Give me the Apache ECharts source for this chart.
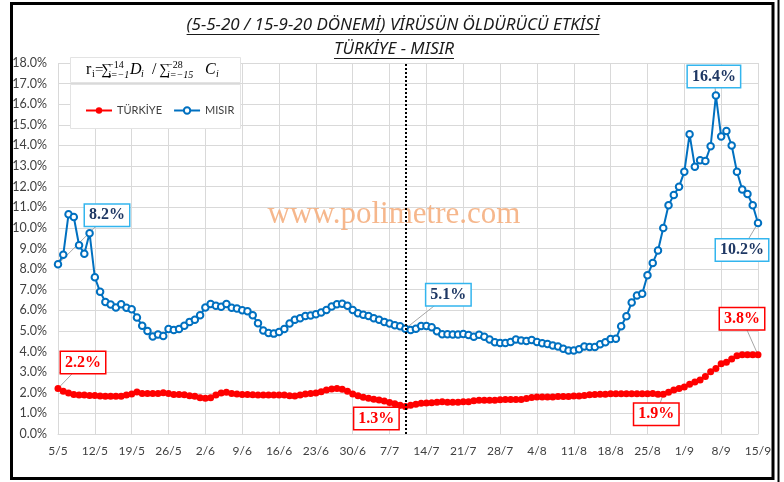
<!DOCTYPE html>
<html style="height: 100%">
<head>
	<meta charset="utf-8">
</head>
<body style="height: 100%; margin: 0; background: #fff">
<div id="container" style="width: 784px; height: 482px"></div>
<script src="https://cdn.jsdelivr.net/npm/echarts@6/dist/echarts.min.js"></script>
<script type="text/javascript">
	// daily dates 5/5 .. 15/9
	var monthSpans = [[5, 5, 31], [6, 1, 30], [7, 1, 31], [8, 1, 31], [9, 1, 15]];
	var dates = [];
	for (var m = 0; m < monthSpans.length; m++) {
		for (var d = monthSpans[m][1]; d <= monthSpans[m][2]; d++) {
			dates.push(d + '/' + monthSpans[m][0]);
		}
	}

	var seriesNames = ['TÜRKİYE', 'MISIR'];

	var turkiye = [
		2.21, 2.07, 1.99, 1.92, 1.89, 1.89, 1.87, 1.87, 1.84, 1.83,
		1.83, 1.83, 1.83, 1.89, 1.94, 2.04, 1.96, 1.96, 1.96, 1.96,
		2.00, 1.96, 1.92, 1.92, 1.91, 1.86, 1.83, 1.76, 1.74, 1.76,
		1.89, 1.99, 2.02, 1.97, 1.94, 1.92, 1.92, 1.91, 1.89, 1.89,
		1.89, 1.89, 1.89, 1.89, 1.86, 1.84, 1.89, 1.94, 1.96, 1.99,
		2.05, 2.13, 2.18, 2.21, 2.17, 2.07, 1.94, 1.86, 1.78, 1.73,
		1.68, 1.65, 1.60, 1.53, 1.47, 1.40, 1.34, 1.39, 1.44, 1.49,
		1.51, 1.52, 1.54, 1.56, 1.54, 1.54, 1.54, 1.56, 1.57, 1.61,
		1.64, 1.64, 1.64, 1.64, 1.66, 1.67, 1.67, 1.67, 1.67, 1.72,
		1.77, 1.79, 1.80, 1.80, 1.80, 1.82, 1.82, 1.82, 1.84, 1.84,
		1.87, 1.90, 1.92, 1.93, 1.93, 1.95, 1.95, 1.95, 1.95, 1.95,
		1.95, 1.95, 1.95, 1.97, 1.93, 1.93, 2.03, 2.13, 2.21, 2.28,
		2.41, 2.52, 2.62, 2.79, 3.02, 3.18, 3.41, 3.48, 3.64, 3.80,
		3.84, 3.84, 3.84, 3.84
	];

	var misir = [
		8.24, 8.70, 10.66, 10.53, 9.16, 8.75, 9.74, 7.60, 6.90, 6.41,
		6.28, 6.14, 6.30, 6.12, 6.05, 5.65, 5.25, 5.00, 4.73, 4.83,
		4.76, 5.09, 5.05, 5.09, 5.25, 5.44, 5.54, 5.76, 6.14, 6.31,
		6.22, 6.17, 6.31, 6.12, 6.09, 6.00, 5.96, 5.76, 5.37, 5.02,
		4.90, 4.87, 4.95, 5.10, 5.36, 5.54, 5.62, 5.73, 5.75, 5.81,
		5.90, 6.02, 6.19, 6.30, 6.32, 6.22, 6.02, 5.86, 5.78, 5.72,
		5.62, 5.54, 5.44, 5.36, 5.28, 5.23, 5.11, 5.05, 5.11, 5.24,
		5.24, 5.18, 4.98, 4.84, 4.84, 4.83, 4.83, 4.85, 4.80, 4.72,
		4.82, 4.72, 4.59, 4.45, 4.42, 4.42, 4.46, 4.59, 4.54, 4.51,
		4.56, 4.46, 4.40, 4.37, 4.29, 4.24, 4.14, 4.05, 4.05, 4.11,
		4.24, 4.22, 4.22, 4.35, 4.45, 4.61, 4.62, 5.23, 5.71, 6.38,
		6.72, 6.80, 7.70, 8.30, 8.90, 9.99, 11.10, 11.60, 12.00, 12.72,
		14.54, 12.97, 13.28, 13.24, 13.96, 16.42, 14.43, 14.70, 14.00, 12.72,
		11.86, 11.65, 11.10, 10.24
	];

	// dotted divider date
	var dividerDate = '10/7';

	// which points get a callout, and where the box sits relative to the point
	var turkiyeCallouts = {0: [25, -26], 66: [-29, 12], 115: [-7, 20], 133: [-16, -36]};
	var misirCallouts = {0: [49, -49], 66: [43, -34], 125: [-2, -19], 133: [-16, 27]};

	function withCallouts(values, callouts, boxColor, textColor) {
		return values.map(function (v, i) {
			if (!callouts[i]) return v;
			return {
				value: v,
				label: {
					show: true,
					position: 'inside',
					formatter: function (p) { return p.value.toFixed(1) + '%'; },
					fontFamily: 'Liberation Serif',
					fontWeight: 'bold',
					fontSize: 16,
					color: textColor,
					backgroundColor: '#fff',
					borderColor: boxColor,
					borderWidth: 1.5,
					padding: [3, 4, 2, 4]
				}
			};
		});
	}

	function calloutLayout(callouts) {
		return function (params) {
			var c = callouts[params.dataIndex];
			if (!c) return {};
			return {dx: c[0], dy: c[1]};
		};
	}

	// underline helper
	var measureCtx = document.createElement('canvas').getContext('2d');
	function textWidth(str, font) {
		measureCtx.font = font;
		return measureCtx.measureText(str).width;
	}

	var title1 = '(5-5-20 / 15-9-20 DÖNEMİ) VİRÜSÜN ÖLDÜRÜCÜ ETKİSİ';
	var title2 = 'TÜRKİYE - MISIR';
	var titleFont = 'italic 17px "Noto Sans"';
	var t1w = textWidth(title1, titleFont);
	var t2w = textWidth(title2, titleFont);

	var fm = 'Liberation Serif';
	var fid = 0;
	function ftext(x, y, s, size, italic) {
		return {
			type: 'text', id: 'f' + (fid++), x: x, y: y, z: 5,
			style: {text: s, fontFamily: fm, fontSize: size, fontStyle: italic ? 'italic' : 'normal',
				fill: '#000', textVerticalAlign: 'middle'}
		};
	}

	var graphics = [
		{type: 'rect', id: 'frame', z: 0, shape: {x: 11.5, y: 3.5, width: 761.5, height: 475}, style: {fill: null, stroke: '#000', lineWidth: 3}},
		{type: 'line', id: 'frame2', z: 0, shape: {x1: 778.5, y1: 0, x2: 778.5, y2: 482}, style: {stroke: '#000', lineWidth: 2}},
		{type: 'text', id: 'wm', z: 1, x: 394, y: 215, style: {text: 'www.polimetre.com', fontFamily: 'Liberation Serif', fontSize: 31,
			fill: 'rgba(244,170,120,0.85)', textAlign: 'center', textVerticalAlign: 'middle'}},
		{type: 'text', id: 't1', z: 5, x: 393, y: 25, style: {text: title1, font: titleFont, fill: '#1a1a1a', textAlign: 'center', textVerticalAlign: 'middle'}},
		{type: 'line', id: 'u1', z: 5, shape: {x1: 393 - t1w / 2, y1: 34.5, x2: 393 + t1w / 2, y2: 34.5}, style: {stroke: '#1a1a1a', lineWidth: 1}},
		{type: 'text', id: 't2', z: 5, x: 394, y: 49, style: {text: title2, font: titleFont, fill: '#1a1a1a', textAlign: 'center', textVerticalAlign: 'middle'}},
		{type: 'line', id: 'u2', z: 5, shape: {x1: 394 - t2w / 2, y1: 58.5, x2: 394 + t2w / 2, y2: 58.5}, style: {stroke: '#1a1a1a', lineWidth: 1}},
		{type: 'rect', id: 'fbox', z: 3, shape: {x: 70.5, y: 57.5, width: 170, height: 25}, style: {fill: '#fff', stroke: '#e3e3e3', lineWidth: 1}},
		{type: 'rect', id: 'lbox', z: 3, shape: {x: 70.5, y: 84.5, width: 170, height: 44}, style: {fill: '#fff', stroke: '#e3e3e3', lineWidth: 1}},
		ftext(86, 70, 'r', 16, false),
		ftext(92, 74, 'i', 10, false),
		ftext(95, 70, '=', 15, false),
		ftext(101, 70, '∑', 15, false),
		ftext(108, 65, '−14', 10, false),
		ftext(108, 75, 'i=−1', 10, true),
		ftext(130, 70, 'D', 16, true),
		ftext(141, 74, 'i', 10, true),
		ftext(152, 70, '/', 16, false),
		ftext(159, 70, '∑', 15, false),
		ftext(167, 65, '−28', 10, false),
		ftext(167, 75, 'i=−15', 10, true),
		ftext(205, 70, 'C', 16, true),
		ftext(216, 74, 'i', 10, true)
	];

	var dom = document.getElementById('container');
	var myChart = echarts.init(dom);
	var option = {
		animation: false,
		backgroundColor: '#fff',
		grid: {left: 58, right: 26, top: 63, bottom: 48},
		legend: {
			data: seriesNames,
			left: 80,
			top: 100,
			itemWidth: 26,
			itemHeight: 8,
			itemGap: 11,
			textStyle: {fontFamily: 'Lato', fontSize: 11, color: '#404040'}
		},
		xAxis: {
			type: 'category',
			data: dates,
			boundaryGap: false,
			axisLine: {lineStyle: {color: '#d9d9d9'}},
			axisTick: {show: false},
			axisLabel: {interval: 6, color: '#404040', fontFamily: 'Lato', fontSize: 12, margin: 11},
			splitLine: {show: true, interval: 6, lineStyle: {color: '#d9d9d9'}}
		},
		yAxis: {
			type: 'value',
			min: 0,
			max: 18,
			interval: 1,
			axisLine: {show: false},
			axisTick: {show: false},
			axisLabel: {
				color: '#404040', fontFamily: 'Lato', fontSize: 12.5, margin: 11,
				formatter: function (v) { return v.toFixed(1) + '%'; }
			},
			splitLine: {lineStyle: {color: '#d9d9d9'}}
		},
		graphic: {elements: graphics},
		series: [
			{
				name: seriesNames[0],
				type: 'line',
				data: withCallouts(turkiye, turkiyeCallouts, '#ff0000', '#ff0000'),
				symbol: 'circle',
				symbolSize: 7,
				showAllSymbol: true,
				itemStyle: {color: '#ff0000'},
				lineStyle: {color: '#ff0000', width: 1.5},
				labelLayout: calloutLayout(turkiyeCallouts),
				z: 4
			},
			{
				name: seriesNames[1],
				type: 'line',
				data: withCallouts(misir, misirCallouts, '#33b5ee', '#1f3864'),
				symbol: 'emptyCircle',
				symbolSize: 6.5,
				showAllSymbol: true,
				itemStyle: {color: '#0070c0', borderWidth: 1.3},
				lineStyle: {color: '#0070c0', width: 2},
				labelLayout: calloutLayout(misirCallouts),
				markLine: {
					silent: true,
					symbol: ['none', 'none'],
					label: {show: false},
					lineStyle: {type: 'dotted', color: '#000', width: 2},
					data: [{xAxis: dividerDate}]
				},
				z: 4
			}
		]
	};
	myChart.setOption(option);

	// grey leader lines from each labelled point towards its callout box
	function leaders(tag, values, callouts) {
		var out = [];
		Object.keys(callouts).forEach(function (k) {
			var i = +k;
			var p = myChart.convertToPixel({xAxisIndex: 0, yAxisIndex: 0}, [i, values[i]]);
			var c = callouts[k];
			out.push({type: 'line', id: 'lead' + tag + i, z: 3,
				shape: {x1: p[0], y1: p[1], x2: p[0] + c[0], y2: p[1] + c[1]},
				style: {stroke: '#a6a6a6', lineWidth: 1}});
		});
		return out;
	}
	var leadLines = leaders('t', turkiye, turkiyeCallouts).concat(leaders('m', misir, misirCallouts));
	myChart.setOption({graphic: {elements: leadLines}});
</script>
</body>
</html>
